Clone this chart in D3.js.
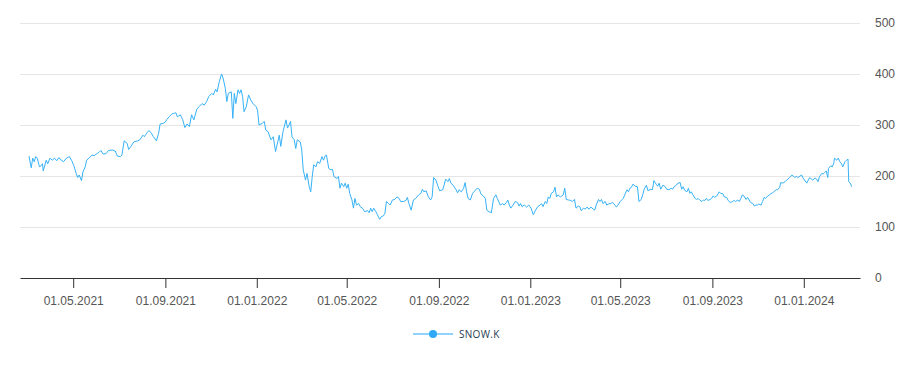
<!DOCTYPE html>
<html><head><meta charset="utf-8">
<script src="https://cdn.jsdelivr.net/npm/d3@7"></script>
<style>
html,body{margin:0;padding:0;background:#fff;}
svg{display:block;font-family:"Liberation Sans",Arial,sans-serif;}
</style></head>
<body><svg id="chart" width="918" height="372"></svg>
<script>
const seriesName = "SNOW.K";
const yTicks = [0, 100, 200, 300, 400, 500];
const xTickDates = ["2021-05-01","2021-09-01","2022-01-01","2022-05-01","2022-09-01","2023-01-01","2023-05-01","2023-09-01","2024-01-01"];
const xDomain = ["2021-02-19","2024-03-16"];

const dates = [
"2021-03-03","2021-03-06","2021-03-08","2021-03-10","2021-03-12","2021-03-14","2021-03-17","2021-03-19","2021-03-21","2021-03-22",
"2021-03-26","2021-03-28","2021-03-31","2021-04-03","2021-04-06","2021-04-09","2021-04-12","2021-04-15","2021-04-18","2021-04-22",
"2021-04-26","2021-04-29","2021-05-02","2021-05-05","2021-05-07","2021-05-09","2021-05-12","2021-05-14","2021-05-17","2021-05-19",
"2021-05-22","2021-05-26","2021-05-29","2021-06-02","2021-06-05","2021-06-07","2021-06-10","2021-06-14","2021-06-17","2021-06-22",
"2021-06-26","2021-06-29","2021-07-03","2021-07-05","2021-07-08","2021-07-12","2021-07-14","2021-07-17","2021-07-21","2021-07-26",
"2021-07-29","2021-08-02","2021-08-04","2021-08-07","2021-08-10","2021-08-13","2021-08-16","2021-08-20","2021-08-23","2021-08-25",
"2021-08-29","2021-09-01","2021-09-03","2021-09-06","2021-09-10","2021-09-13","2021-09-15","2021-09-17","2021-09-21","2021-09-24",
"2021-09-27","2021-09-30","2021-10-03","2021-10-06","2021-10-09","2021-10-13","2021-10-16","2021-10-20","2021-10-23","2021-10-26",
"2021-10-29","2021-11-02","2021-11-04","2021-11-07","2021-11-09","2021-11-12","2021-11-15","2021-11-17","2021-11-20","2021-11-22",
"2021-11-24","2021-11-28","2021-11-30","2021-12-02","2021-12-04","2021-12-07","2021-12-09","2021-12-11","2021-12-13","2021-12-15",
"2021-12-18","2021-12-21","2021-12-24","2021-12-27","2021-12-31","2022-01-02","2022-01-04","2022-01-08","2022-01-11","2022-01-13",
"2022-01-16","2022-01-20","2022-01-23","2022-01-26","2022-01-29","2022-01-31","2022-02-02","2022-02-05","2022-02-09","2022-02-11",
"2022-02-13","2022-02-15","2022-02-17","2022-02-20","2022-02-22","2022-02-24","2022-02-28","2022-03-02","2022-03-04","2022-03-07",
"2022-03-09","2022-03-12","2022-03-14","2022-03-16","2022-03-18","2022-03-21","2022-03-23","2022-03-26","2022-03-29","2022-03-31",
"2022-04-02","2022-04-04","2022-04-07","2022-04-10","2022-04-12","2022-04-14","2022-04-18","2022-04-20","2022-04-22","2022-04-24",
"2022-04-27","2022-04-29","2022-05-01","2022-05-03","2022-05-05","2022-05-08","2022-05-10","2022-05-12","2022-05-14","2022-05-17",
"2022-05-19","2022-05-22","2022-05-25","2022-05-29","2022-05-31","2022-06-02","2022-06-04","2022-06-06","2022-06-09","2022-06-11",
"2022-06-14","2022-06-16","2022-06-19","2022-06-21","2022-06-23","2022-06-26","2022-06-28","2022-07-01","2022-07-04","2022-07-07",
"2022-07-10","2022-07-12","2022-07-16","2022-07-19","2022-07-21","2022-07-23","2022-07-26","2022-07-29","2022-08-01","2022-08-05",
"2022-08-08","2022-08-10","2022-08-12","2022-08-15","2022-08-18","2022-08-21","2022-08-23","2022-08-25","2022-08-28","2022-08-31",
"2022-09-02","2022-09-06","2022-09-08","2022-09-10","2022-09-13","2022-09-15","2022-09-17","2022-09-20","2022-09-24","2022-09-26",
"2022-09-28","2022-10-01","2022-10-04","2022-10-06","2022-10-08","2022-10-10","2022-10-13","2022-10-16","2022-10-19","2022-10-22",
"2022-10-25","2022-10-27","2022-10-30","2022-11-02","2022-11-04","2022-11-07","2022-11-10","2022-11-13","2022-11-16","2022-11-18",
"2022-11-22","2022-11-25","2022-11-27","2022-11-30","2022-12-02","2022-12-04","2022-12-06","2022-12-09","2022-12-12","2022-12-15",
"2022-12-17","2022-12-19","2022-12-21","2022-12-24","2022-12-27","2022-12-30","2023-01-02","2023-01-05","2023-01-08","2023-01-11",
"2023-01-14","2023-01-16","2023-01-18","2023-01-21","2023-01-23","2023-01-25","2023-01-27","2023-01-29","2023-02-01","2023-02-03",
"2023-02-05","2023-02-07","2023-02-10","2023-02-12","2023-02-14","2023-02-16","2023-02-18","2023-02-21","2023-02-24","2023-02-26",
"2023-03-01","2023-03-03","2023-03-06","2023-03-08","2023-03-10","2023-03-13","2023-03-15","2023-03-18","2023-03-20","2023-03-23",
"2023-03-26","2023-03-28","2023-03-30","2023-04-02","2023-04-04","2023-04-06","2023-04-08","2023-04-11","2023-04-13","2023-04-15",
"2023-04-18","2023-04-21","2023-04-24","2023-04-26","2023-04-28","2023-05-01","2023-05-03","2023-05-05","2023-05-07","2023-05-10",
"2023-05-12","2023-05-14","2023-05-16","2023-05-18","2023-05-21","2023-05-24","2023-05-26","2023-05-29","2023-05-31","2023-06-02",
"2023-06-05","2023-06-07","2023-06-10","2023-06-13","2023-06-15","2023-06-18","2023-06-20","2023-06-22","2023-06-24","2023-06-27",
"2023-06-30","2023-07-02","2023-07-05","2023-07-08","2023-07-10","2023-07-12","2023-07-15","2023-07-17","2023-07-20","2023-07-22",
"2023-07-24","2023-07-26","2023-07-29","2023-07-31","2023-08-02","2023-08-04","2023-08-06","2023-08-09","2023-08-11","2023-08-13",
"2023-08-15","2023-08-18","2023-08-20","2023-08-22","2023-08-24","2023-08-26","2023-08-29","2023-08-31","2023-09-02","2023-09-04",
"2023-09-07","2023-09-10","2023-09-12","2023-09-15","2023-09-17","2023-09-20","2023-09-22","2023-09-25","2023-09-28","2023-09-30",
"2023-10-02","2023-10-05","2023-10-07","2023-10-09","2023-10-11","2023-10-13","2023-10-16","2023-10-18","2023-10-20","2023-10-22",
"2023-10-25","2023-10-27","2023-10-29","2023-10-31","2023-11-02","2023-11-05","2023-11-07","2023-11-09","2023-11-11","2023-11-14",
"2023-11-16","2023-11-18","2023-11-20","2023-11-22","2023-11-25","2023-11-27","2023-11-30","2023-12-01","2023-12-04","2023-12-07",
"2023-12-09","2023-12-11","2023-12-13","2023-12-16","2023-12-18","2023-12-20","2023-12-22","2023-12-24","2023-12-27","2023-12-29",
"2023-12-31","2024-01-02","2024-01-05","2024-01-07","2024-01-09","2024-01-11","2024-01-13","2024-01-16","2024-01-18","2024-01-20",
"2024-01-22","2024-01-25","2024-01-27","2024-01-29","2024-01-31","2024-02-02","2024-02-03","2024-02-06","2024-02-08","2024-02-10",
"2024-02-11","2024-02-14","2024-02-16","2024-02-18","2024-02-20","2024-02-22","2024-02-25","2024-02-27","2024-02-29","2024-03-01",
"2024-03-03","2024-03-05"
];
const values = [
239,216,235,228,238,235,218,220,224,210,
231,224,235,231,235,230,236,231,228,235,
238,230,220,205,197,202,191,208,218,231,
235,241,240,244,247,250,243,244,250,251,
249,239,238,241,269,264,252,258,267,269,
271,280,277,284,289,285,277,269,284,302,
303,306,311,316,322,323,324,316,320,311,
295,302,297,320,310,331,336,342,339,346,
356,362,359,370,365,385,400,392,372,346,
362,365,313,362,342,369,362,369,356,326,
336,359,349,342,336,329,300,303,307,290,
287,271,277,248,267,280,258,287,310,294,
300,307,277,271,254,271,267,251,212,192,
205,179,169,199,222,218,228,225,238,231,
239,241,215,212,213,199,195,199,176,186,
179,186,176,184,166,153,137,156,143,146,
140,137,130,132,128,137,130,137,130,124,
115,120,122,127,150,146,143,153,154,159,
156,150,150,152,158,146,133,153,156,163,
166,174,169,171,159,153,159,197,192,179,
171,173,182,194,189,195,186,182,173,167,
173,169,176,187,169,156,153,166,171,176,
174,165,161,156,133,130,128,156,163,156,
143,146,143,148,153,143,137,143,150,148,
141,146,140,143,139,143,137,124,133,140,
143,146,140,150,146,159,156,166,169,178,
159,163,159,161,163,176,154,153,152,150,
154,137,141,140,132,137,135,139,135,139,
135,133,143,154,150,154,146,150,143,145,
146,148,143,139,143,150,153,156,163,173,
169,176,178,184,180,179,150,154,163,174,
182,171,174,173,191,184,180,186,174,182,
179,174,173,176,174,179,182,186,187,174,
179,172,169,176,166,169,163,156,154,156,
153,150,153,152,156,152,154,156,161,158,
161,169,166,165,159,158,152,148,150,152,
150,153,150,156,163,161,154,158,153,148,
146,141,143,143,145,143,150,158,156,161,
163,165,167,169,173,173,178,187,186,189,
192,194,197,202,200,197,199,197,200,202,
196,192,186,192,197,194,192,196,194,189,
199,205,204,207,210,197,215,220,218,225,
235,231,235,228,225,218,228,231,233,189,
186,179
];

const parse = d3.timeParse("%Y-%m-%d");
const data = dates.map((d, i) => ({date: parse(d), value: values[i]}));

const svg = d3.select("#chart");
const plotLeft = 20, plotRight = 860, plotTop = 23, plotBottom = 278;
const lineColor = "#37b2f6";

const x = d3.scaleTime().domain(xDomain.map(parse)).range([plotLeft, plotRight]);
const y = d3.scaleLinear().domain([0, 500]).range([plotBottom, plotTop]);

// grid lines
svg.append("g").selectAll("line").data(yTicks.filter(t => t > 0)).join("line")
  .attr("x1", plotLeft).attr("x2", plotRight)
  .attr("y1", d => y(d) + 0.5).attr("y2", d => y(d) + 0.5)
  .attr("stroke", "#e6e6e6").attr("stroke-width", 1);

// right y axis labels
const yAxis = d3.axisRight(y).tickValues(yTicks).tickSize(0).tickPadding(15);
const gy = svg.append("g").attr("transform", `translate(${plotRight},0)`).call(yAxis);
gy.select(".domain").remove();
gy.selectAll("text").attr("fill", "#555").style("font-size", "12px")
  .style("font-family", '"Liberation Sans", Arial, sans-serif');

// bottom axis
const xAxis = d3.axisBottom(x).tickValues(xTickDates.map(parse))
  .tickFormat(d3.timeFormat("%d.%m.%Y")).tickSizeInner(10).tickSizeOuter(0).tickPadding(8);
const gx = svg.append("g").attr("transform", `translate(0,${plotBottom})`).call(xAxis);
gx.select(".domain").attr("stroke", "#333").attr("stroke-width", 1);
gx.selectAll(".tick line").attr("stroke", "#333");
gx.selectAll("text").attr("fill", "#555").style("font-size", "12px")
  .style("font-family", '"Liberation Sans", Arial, sans-serif');

// line
const line = d3.line().x(d => x(d.date)).y(d => y(d.value));
svg.append("path").datum(data).attr("d", line)
  .attr("fill", "none").attr("stroke", lineColor).attr("stroke-width", 1)
  .attr("stroke-linejoin", "round");

// legend
const lg = svg.append("g").attr("transform", "translate(413,334)");
lg.append("line").attr("x1", 0).attr("x2", 40).attr("y1", 0).attr("y2", 0)
  .attr("stroke", "#8fd2fb").attr("stroke-width", 2);
lg.append("circle").attr("cx", 20).attr("cy", 0).attr("r", 4).attr("fill", "#2fa9f5");
lg.append("text").attr("x", 46).attr("y", 4).text(seriesName)
  .attr("fill", "#2a3e4f").style("font-size", "10px").style("letter-spacing", "0.3px")
  .style("font-family", '"Open Sans", "Liberation Sans", sans-serif');
</script></body></html>
